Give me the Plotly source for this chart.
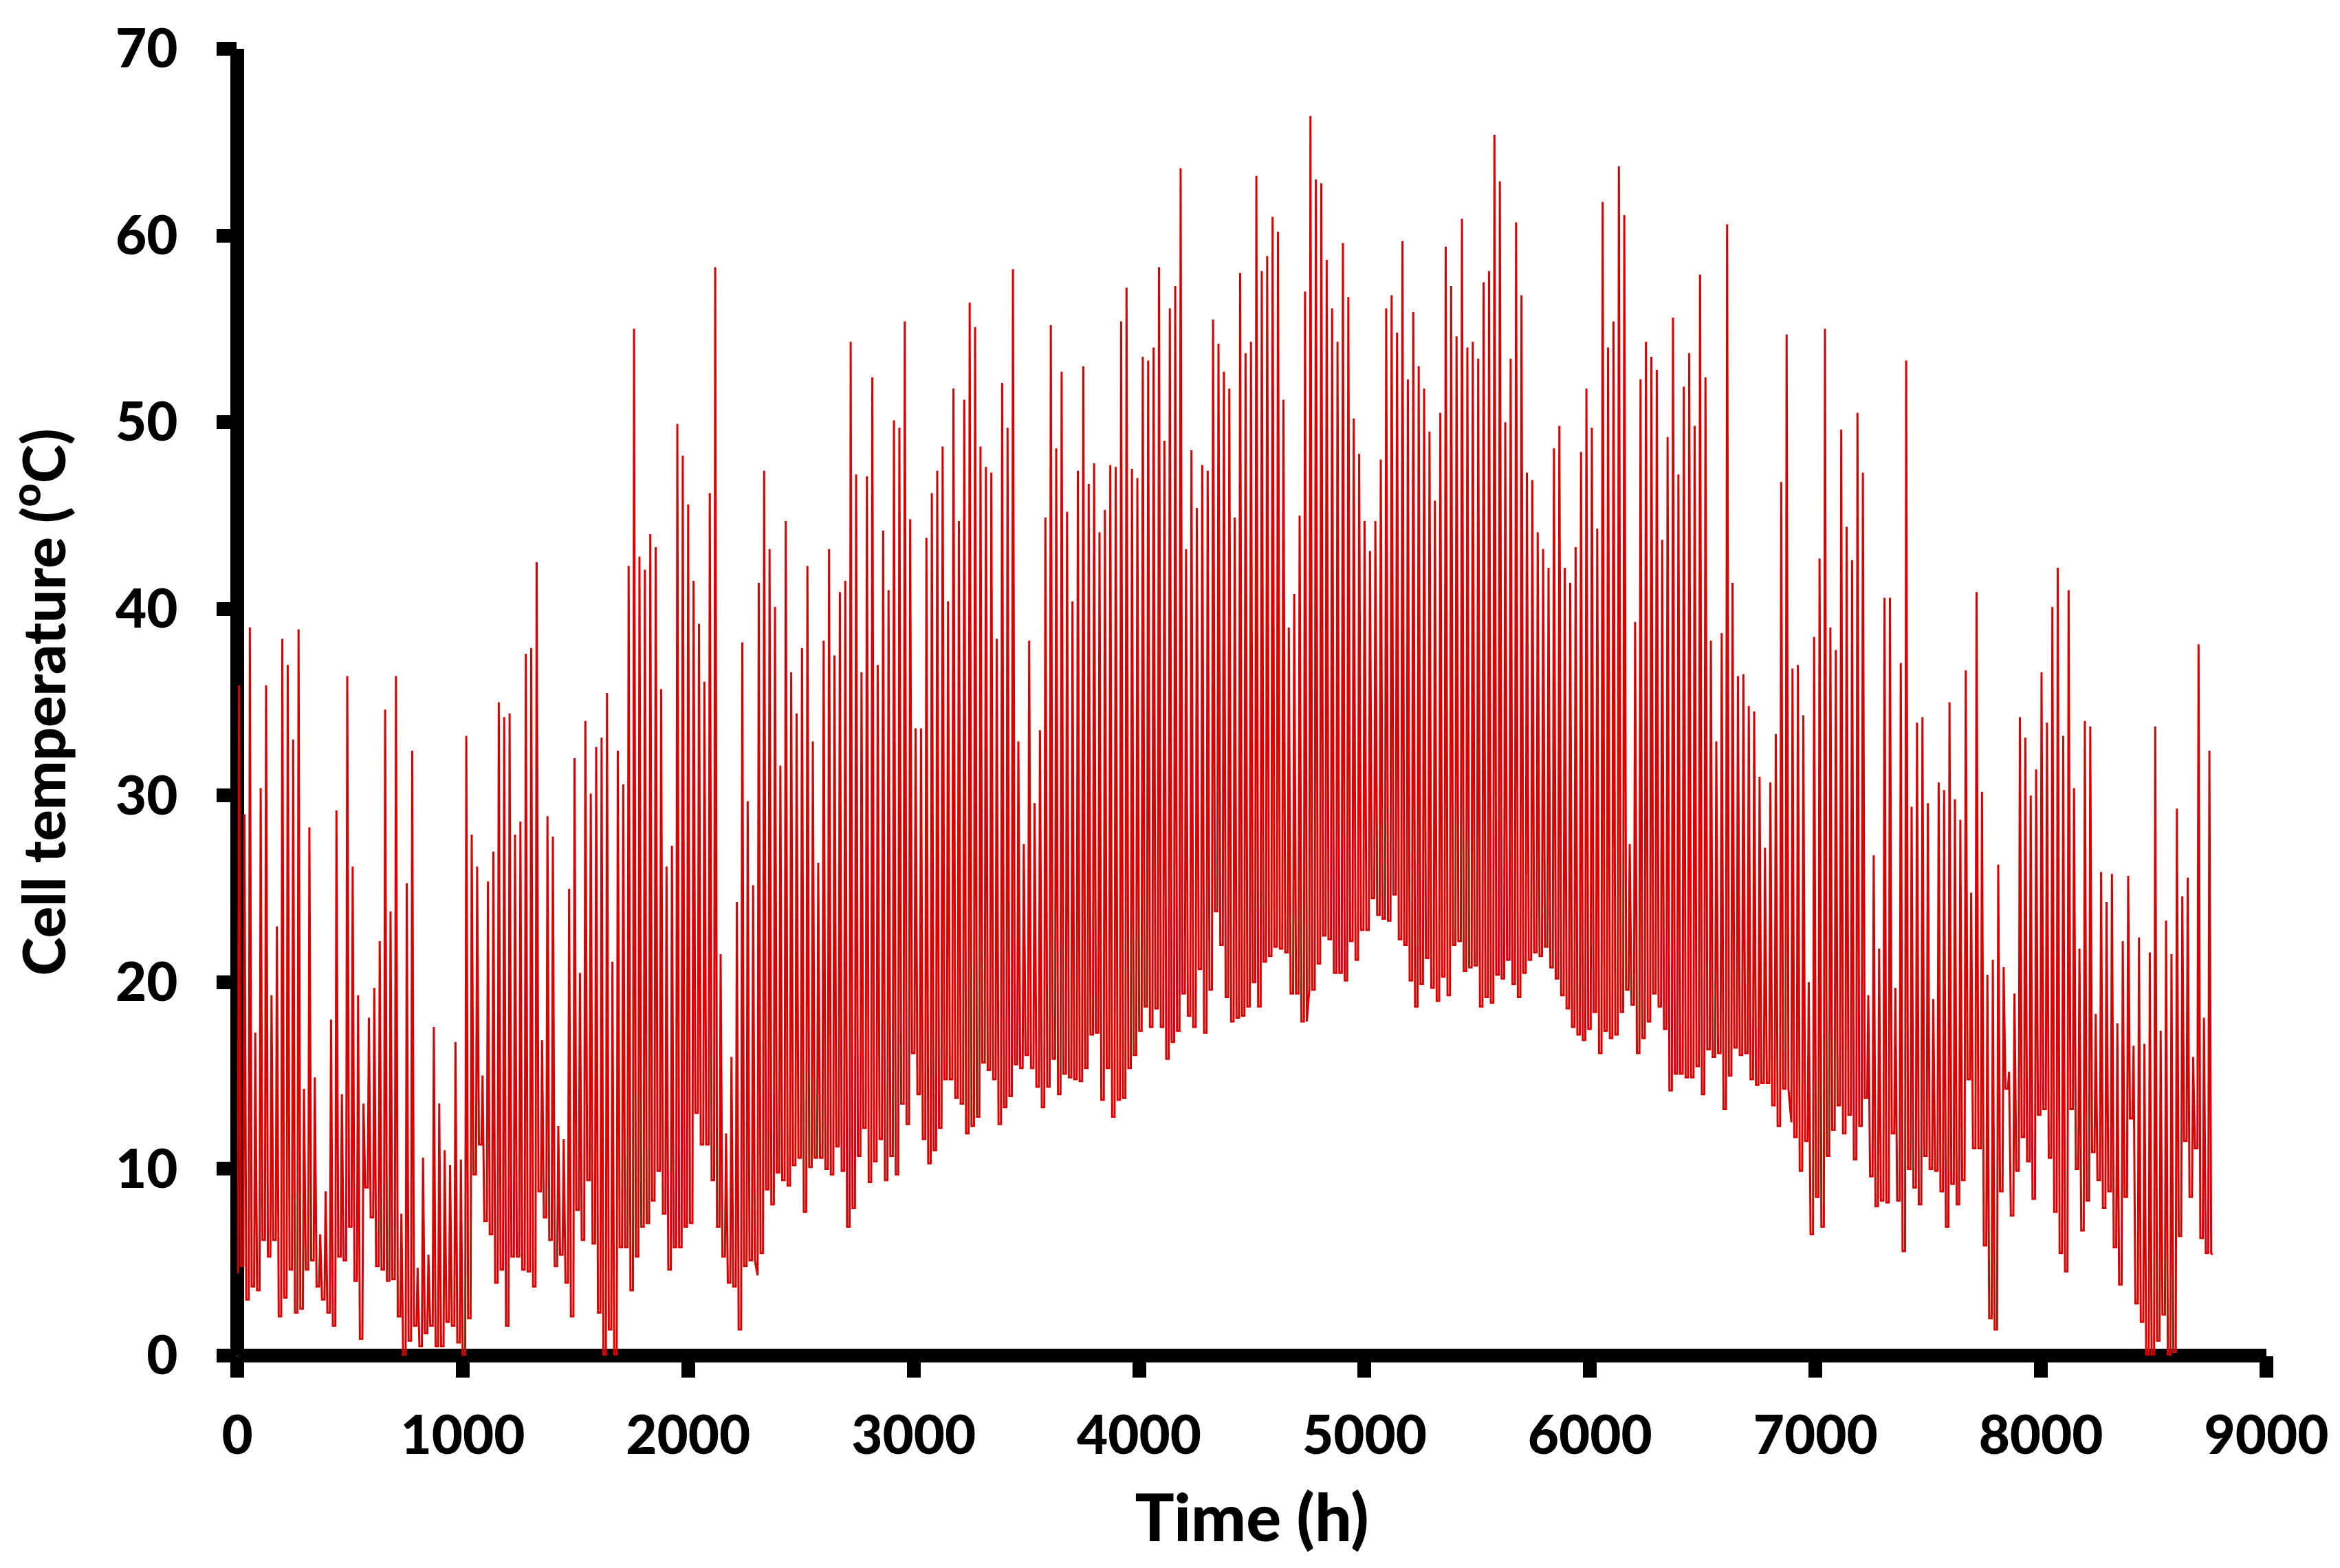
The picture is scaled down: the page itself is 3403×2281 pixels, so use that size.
import numpy as np
import plotly.graph_objects as go

# Daily peak and night-time values, in four stretches of the year
peak_a = [35.9,29,39,17.3,30.4,35.9,19.3,23,38.4,37,33,38.9,14.3,28.3,14.9,6.5,8.8,18,29.2,14,36.4,26.2,19.3,13.5,18.1,19.7,22.2,34.6,23.8,36.4,7.6,25.3,32.4,4.7,10.6,5.4,17.6,13.5,11,10.2,16.8,10.5,33.2,27.9,26.2,15,25.4,27,35,34.2,34.4,27.9,28.6,37.6,37.9,42.5,16.9,28.9,27.8,12.3,11.6,25,32,20.5,34,30.1,32.6,33.1,35.5,21.1,32.4,30.6,42.3,55,42.8,42.1,44,43.3,35.7,26.2,27.3,49.9,48.2,45.6,41.5,39.2,36.1,46.2,58.3,21.5,11.9,16,24.3,38.2,29.7,25.2]
low_a = [4.4,4.8,3.0,3.7,3.5,6.2,5.3,6.2,2.1,3.1,4.6,2.3,2.5,4.6,5.1,3.7,3,2.3,1.6,5.3,5.1,6.9,4,0.9,9,7.4,4.8,4.6,4,4.1,2.1,-0.1,0.8,1.6,0.5,1.2,1.6,0.5,0.5,1.8,1.6,0.7,-0.2,2,9.7,11.3,7.2,6.5,3.9,4.6,1.6,5.3,5.3,4.6,4.5,3.7,8.8,7.4,6.2,4.8,5.4,3.9,2.1,7.8,6.2,9.4,6,2.3,-0.1,1.4,-0.2,5.8,5.8,3.5,5.3,6.9,7.1,8.3,9.9,7.6,4.6,5.8,5.8,6.9,7.1,13,11.3,11.3,9.4,6.9,5.3,3.9,3.7,1.4,4.8,5.1]
peak_b = [41.4,47.4,43.2,40.1,31.6,44.7,36.6,34.4,37.9,42.3,32.9,26.4,38.3,43.2,37.5,40.9,41.5,54.3,47.2,36.6,47.1,52.4,37,44.2,41,50.1,49.7,55.4,44.8,33.6,33.6,43.8,46.2,47.4,48.7,40.4,51.8,44.7,51.2,56.4,55.1,48.7,47.6,47.3,38.4,52.1,49.7,58.2,32.9,27.4,38.3,29.6,33.5,44.9,55.2,48.6,52.7,45.2,40.4,47.4,53,46.7,47.8,44.1,45.3,47.7,47.6,55.4,57.2,47.5,47,53.5,53.3,54,58.3,49,56.1,57.3,63.6,43.2,48.5,45.4,47.7,47.4,55.5,54.2,52.7,51.8,44.9,58,53.7,54.3,63.2,58.1,58.9,61,60.2,51.2,39,40.8,45,57]
low_b = [4.3,5.5,8.9,8.1,9.8,9.4,9.1,10.2,10.6,7.7,10.1,10.6,10.6,10,9.7,11.2,9.9,6.9,7.9,10.7,12.2,9.3,10.4,11.6,9.4,10.7,9.7,13.5,12.4,16.2,14,11.6,10.3,11,12.2,14.8,14.8,13.8,13.5,11.9,12.3,12.8,15.7,15.3,14.8,12.4,13.3,13.9,15.6,15.4,16.1,15.4,14.4,13.3,14.4,15.9,14,15.1,14.9,14.8,14.7,15.4,17.2,17.3,13.7,15.4,12.8,13.7,13.8,15.4,16.1,17.4,18.7,17.6,18.6,17.6,15.9,16.8,17.4,19.4,18.2,17.6,20.7,17.3,19.6,23.8,22,19.2,17.9,18.1,18.2,18.7,20,18.7,21.1,21.4,21.9,21.8,21.6,19.4,19.4,17.9]
peak_c = [66.4,63,62.8,58.7,56.1,54.3,59.6,56.7,50.2,48.3,44.7,43.1,44.7,48,56.1,56.8,54.8,59.7,52.3,55.9,53,51.8,49.5,45.8,50.5,59.4,57.3,54.6,60.9,54,54.3,53.4,57.5,58.1,65.4,62.9,50,53.4,60.7,56.8,47.3,46.9,44.1,43.2,42.2,48.6,49.8,42.2,41.4,43.3,48.4,51.8,49.7,44.3,61.8,54,55.4,63.7,61.1,27.4,39.3,52.3,54.3,53.5,52.8,43.7,49.2,55.6,47.2,51.9,53.7,49.8,57.9,52.4,38.3,32.9,38.7,60.6,41.4,36.4,36.5,34.8,34.5,31,27.2,30.7,33.3,46.8,54.7]
low_c = [19.6,19.6,21,22.5,22.3,20.5,20.5,20.1,22.2,21.2,22.8,22.8,24.5,23.6,23.4,23.3,24.7,22.3,22,20.1,18.7,19.9,21.3,19.7,19,20.3,19.3,22,22.2,20.6,20.8,20.9,18.7,19.2,18.9,20.4,20.2,21.2,19.9,19.2,20.5,21.2,21.6,21.4,21.9,20.8,20.2,19.3,18.6,17.6,17.2,16.9,17.5,18.4,16.2,17.4,17,17.2,18.4,19.6,18.8,16.2,17,17.9,19.4,18.7,17.5,14.2,15.1,15.1,14.9,14.9,15.5,14,16.4,16,16.2,13.2,15,16.5,16.1,16.2,14.8,14.5,14.6,14.6,13.4,12.3,14.3]
peak_d = [36.8,37,34.3,20,38.5,42.7,55,39,37.8,49.6,44.4,42.6,50.5,47.3,19.3,26.8,21.8,40.6,40.6,19.7,37.1,53.3,29.4,33.9,34.2,29.6,19.1,30.7,30.3,35,29.8,28.7,36.7,24.8,40.9,30.2,20.4,21.2,26.3,20.8,15.2,19.4,34.2,33.1,30,31.4,36.6,33.9,40.1,42.2,33.2,41,30.4,21.8,34,33.7,18.3,25.9,24.3,25.8,17.8,22.2,25.7,16.6,22.4,16.7,21.6,33.7,17.4,23.3,21.5,29.3,24.6,25.6,16,38.1,18.1,32.4]
low_d = [12.5,11.7,9.9,11.5,6.5,8.5,6.9,10.7,12.1,13.4,11.9,12.9,10.5,12.3,13.8,9.6,8,8.3,8.2,11.9,8.3,5.6,10,9,8.1,10.7,10,9.9,8.8,6.9,9.2,8.1,9.4,14.8,11.1,11.1,5.9,2,1.4,7.2,8.8,14.3,7.5,9.9,11.7,10.4,8.4,12.9,13.2,10.6,7.7,5.5,4.5,13.2,10,6.7,8.3,10.9,9.4,7.9,8.8,5.8,3.8,8.5,12.7,2.8,1.8,-0.2,-0.2,0.8,2.2,-0.2,0.2,6.4,11.5,8.5,11.1,6.3,5.5]
stretches = [(8, 2288, peak_a, low_a), (2313, 4736, peak_b, low_b),
             (4760, 6872, peak_c, low_c), (6898, 8747, peak_d, low_d)]
first_hour, first_value = 0, 5.0
last_hour, last_value = 8760, 5.4

x_ticks = list(range(0, 10000, 1000))
y_ticks = list(range(0, 80, 10))
x_label = "Time (h)"
y_label = "Cell temperature (<sup>o</sup>C)"

RISE, FALL = 5, 8
hours, temps = [first_hour], [first_value]
for start, end, peaks, lows in stretches:
    centres = np.linspace(start, end, len(peaks))
    for i, (c, p) in enumerate(zip(centres, peaks)):
        a = lows[min(round(i * len(lows) / len(peaks)), len(lows) - 1)]
        b = lows[min(round((i + 1) * len(lows) / len(peaks)), len(lows) - 1)]
        hours += [c - RISE, c, c + FALL]
        temps += [a, p, b]
hours.append(last_hour)
temps.append(last_value)

font = dict(family="Lato, Carlito, sans-serif", size=78, color="black", weight=900)
xtitle_font = dict(family="Lato, Carlito, sans-serif", size=95, color="black", weight=900)
ytitle_font = dict(family="Lato, Carlito, sans-serif", size=85, color="black", weight=900)

fig = go.Figure(go.Scatter(x=hours, y=temps, mode="lines",
                           line=dict(color="#dc0000", width=3), cliponaxis=False,
                           hoverinfo="skip", showlegend=False))
common = dict(showgrid=False, showline=False, zeroline=True, zerolinecolor="black", zerolinewidth=20,
              ticks="outside", tickwidth=20, tickcolor="black", tickfont=font,
              layer="below traces", automargin=False)
fig.update_xaxes(range=[0, 9000], tickvals=x_ticks, ticklen=31, ticklabelstandoff=17,
                 title=dict(text=x_label, font=xtitle_font, standoff=44), **common)
fig.update_yaxes(range=[0, 70], tickvals=y_ticks, ticklen=29, ticklabelstandoff=41,
                 title=dict(text=y_label, font=ytitle_font, standoff=58), **common)
fig.add_shape(type="line", x0=9000, x1=9030, y0=0, y1=0, layer="below",
              line=dict(color="black", width=20))
fig.update_layout(width=3403, height=2281, autosize=False, paper_bgcolor="white", plot_bgcolor="white",
                  margin=dict(l=345, r=107, t=71, b=309, pad=0))
fig.write_html("out.html", config=dict(displayModeBar=False),
               post_script="document.body.style.margin='0';")
